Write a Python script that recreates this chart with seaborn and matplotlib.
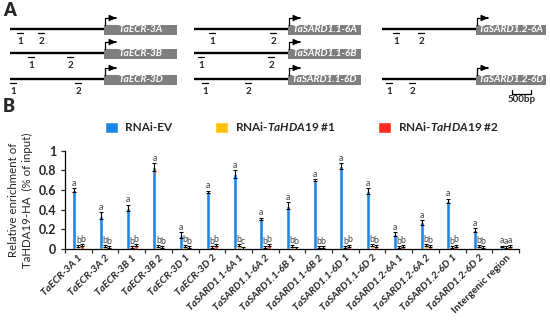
import numpy as np
import pandas as pd
import matplotlib
matplotlib.use("Agg")
import matplotlib.pyplot as plt
import seaborn as sns
from matplotlib.patches import Rectangle

# ---- panel B data (ChIP-qPCR, % of input) ----
targets = ["TaECR-3A 1", "TaECR-3A 2", "TaECR-3B 1", "TaECR-3B 2", "TaECR-3D 1", "TaECR-3D 2",
           "TaSARD1.1-6A 1", "TaSARD1.1-6A 2", "TaSARD1.1-6B 1", "TaSARD1.1-6B 2",
           "TaSARD1.1-6D 1", "TaSARD1.1-6D 2", "TaSARD1.2-6A 1", "TaSARD1.2-6A 2",
           "TaSARD1.2-6D 1", "TaSARD1.2-6D 2", "Intergenic region"]
lines = ["RNAi-EV", r"RNAi-$\mathit{TaHDA19}$ #1", r"RNAi-$\mathit{TaHDA19}$ #2"]
ev = [0.60, 0.34, 0.42, 0.83, 0.14, 0.58, 0.76, 0.31, 0.44, 0.70, 0.84, 0.59,
      0.15, 0.27, 0.49, 0.19, 0.03]
hda1 = [0.03, 0.03, 0.02, 0.03, 0.035, 0.02, 0.04, 0.02, 0.03, 0.02, 0.02, 0.04,
        0.02, 0.04, 0.02, 0.03, 0.02]
hda2 = [0.04, 0.02, 0.04, 0.02, 0.02, 0.04, 0.015, 0.04, 0.015, 0.02, 0.035, 0.03,
        0.03, 0.03, 0.035, 0.02, 0.03]
ev_err = [0.02, 0.035, 0.03, 0.04, 0.03, 0.015, 0.04, 0.01, 0.035, 0.01, 0.03, 0.03,
          0.02, 0.025, 0.02, 0.02, 0.005]
hda1_err = [0.01] * 17
hda2_err = [0.01] * 17
ev_letters = ["a"] * 17
hda1_letters = ["b"] * 16 + ["a"]
hda2_letters = ["b"] * 6 + ["c"] + ["b"] * 9 + ["a"]
colors = ["#1F86E8", "#FFC000", "#FF2A1C"]

# ---- panel A gene models ----
gene_names = ["TaECR-3A", "TaECR-3B", "TaECR-3D", "TaSARD1.1-6A", "TaSARD1.1-6B",
              "TaSARD1.1-6D", "TaSARD1.2-6A", "TaSARD1.2-6D"]
gene_col = [0, 0, 0, 1, 1, 1, 2, 2]
gene_row = [0, 1, 2, 0, 1, 2, 0, 2]
primer1_x = [20, 31, 13, 212, 201, 205, 396, 389]
primer2_x = [41, 70, 78, 273, 271, 248, 421, 412]
col_start = [10, 194, 382]
col_tss = [104, 288, 476]
col_end = [177, 361, 546]
row_y = [29, 53, 79]

sns.set_style("ticks")
plt.rcParams["font.family"] = ["Lato", "DejaVu Sans"]
plt.rcParams["mathtext.fontset"] = "custom"
plt.rcParams["mathtext.it"] = "Lato:italic:bold"
plt.rcParams["mathtext.rm"] = "Lato:bold"
plt.rcParams["mathtext.bf"] = "Lato:bold"

fig = plt.figure(figsize=(5.5, 3.21), dpi=100)

# panel A drawn in pixel coordinates
axA = fig.add_axes([0, 0, 1, 1])
axA.set_xlim(0, 550)
axA.set_ylim(321, 0)
axA.axis("off")
axA.text(3, 11, "A", fontsize=13, fontweight="heavy", va="center")
axA.text(3, 106, "B", fontsize=13, fontweight="heavy", va="center")
for name, c, r, p1, p2 in zip(gene_names, gene_col, gene_row, primer1_x, primer2_x):
    y = row_y[r]
    axA.plot([col_start[c], col_tss[c]], [y, y], color="black", lw=1.7, solid_capstyle="butt")
    axA.add_patch(Rectangle((col_tss[c], y - 4.5), col_end[c] - col_tss[c], 10.5,
                            facecolor="#7F7F7F", edgecolor="none"))
    axA.text((col_tss[c] + col_end[c]) / 2, y + 1, name, color="white", fontsize=7.2,
             fontweight="bold", fontstyle="italic", ha="center", va="center")
    # transcription start arrow
    axA.plot([col_tss[c] + 1, col_tss[c] + 1, col_tss[c] + 10], [y - 4.5, y - 11, y - 11],
             color="black", lw=0.9)
    axA.annotate("", xy=(col_tss[c] + 15, y - 11), xytext=(col_tss[c] + 9, y - 11),
                 arrowprops=dict(arrowstyle="-|>,head_length=0.4,head_width=0.18",
                                 color="black", lw=0.9))
    for px, lab in [(p1, "1"), (p2, "2")]:
        axA.plot([px - 3, px + 3], [y + 4, y + 4], color="black", lw=0.9)
        axA.text(px, y + 12, lab, fontsize=7, fontweight="bold", ha="center", va="center")
# scale bar
axA.plot([512, 512, 531, 531], [90, 93.5, 93.5, 90], color="black", lw=0.9)
axA.text(521.5, 100, "500bp", fontsize=7, fontweight="bold", ha="center", va="center")

# panel B bar chart
ax = fig.add_axes([65 / 550, (321 - 249) / 321, 454 / 550, 98.3 / 321])
df = pd.DataFrame({"target": targets * 3,
                   "line": [lines[0]] * 17 + [lines[1]] * 17 + [lines[2]] * 17,
                   "value": ev + hda1 + hda2})
sns.barplot(data=df, x="target", y="value", hue="line", order=targets, hue_order=lines,
            palette=colors, width=0.45, saturation=1, errorbar=None, ax=ax)

for cont, errs, letters in zip(ax.containers, [ev_err, hda1_err, hda2_err],
                               [ev_letters, hda1_letters, hda2_letters]):
    for bar, e, lab in zip(cont, errs, letters):
        x = bar.get_x() + bar.get_width() / 2
        h = bar.get_height()
        ax.errorbar(x, h, yerr=e, color="black", capsize=1.4, elinewidth=0.8, capthick=0.8)
        ax.text(x, h + e + 0.004, lab, ha="center", va="bottom", fontsize=6.3, color="#404040")

ax.set_ylim(0, 1)
ax.set_xlim(-0.5, 16.5)
ax.set_yticks([0, 0.2, 0.4, 0.6, 0.8, 1.0])
ax.set_yticklabels(["0", "0.2", "0.4", "0.6", "0.8", "1"], fontsize=9, fontweight="bold")
ax.set_xticks(range(len(targets)))
ax.set_xticklabels(targets, rotation=45, ha="right", rotation_mode="anchor",
                   fontsize=7.4, fontweight="bold")
for t in ax.get_xticklabels():
    if t.get_text().startswith("Ta"):
        t.set_fontstyle("italic")
ax.set_xticks(np.arange(-0.5, 17, 1), minor=True)
ax.tick_params(axis="x", which="major", length=0, pad=3)
ax.tick_params(axis="x", which="minor", length=3, width=0.9, direction="out")
ax.tick_params(axis="y", length=3, width=0.9, pad=3.5)
ax.set_xlabel("")
ax.set_ylabel("Relative enrichment of\nTaHDA19-HA  (% of input)", fontsize=8.3, labelpad=4,
              linespacing=1.3)
for s in ["left", "bottom"]:
    ax.spines[s].set_linewidth(0.9)
    ax.spines[s].set_color("black")
sns.despine(ax=ax)

sns.move_legend(ax, "center left", bbox_to_anchor=(105 / 550, 1 - 127 / 321),
                bbox_transform=fig.transFigure, ncol=3, frameon=False, title=None,
                handlelength=1.1, handleheight=1.1, columnspacing=3.6, handletextpad=0.6,
                borderpad=0, borderaxespad=0, fontsize=8.5)
for t in ax.get_legend().get_texts():
    t.set_fontweight("bold")

fig.savefig("out.png", dpi=100)
